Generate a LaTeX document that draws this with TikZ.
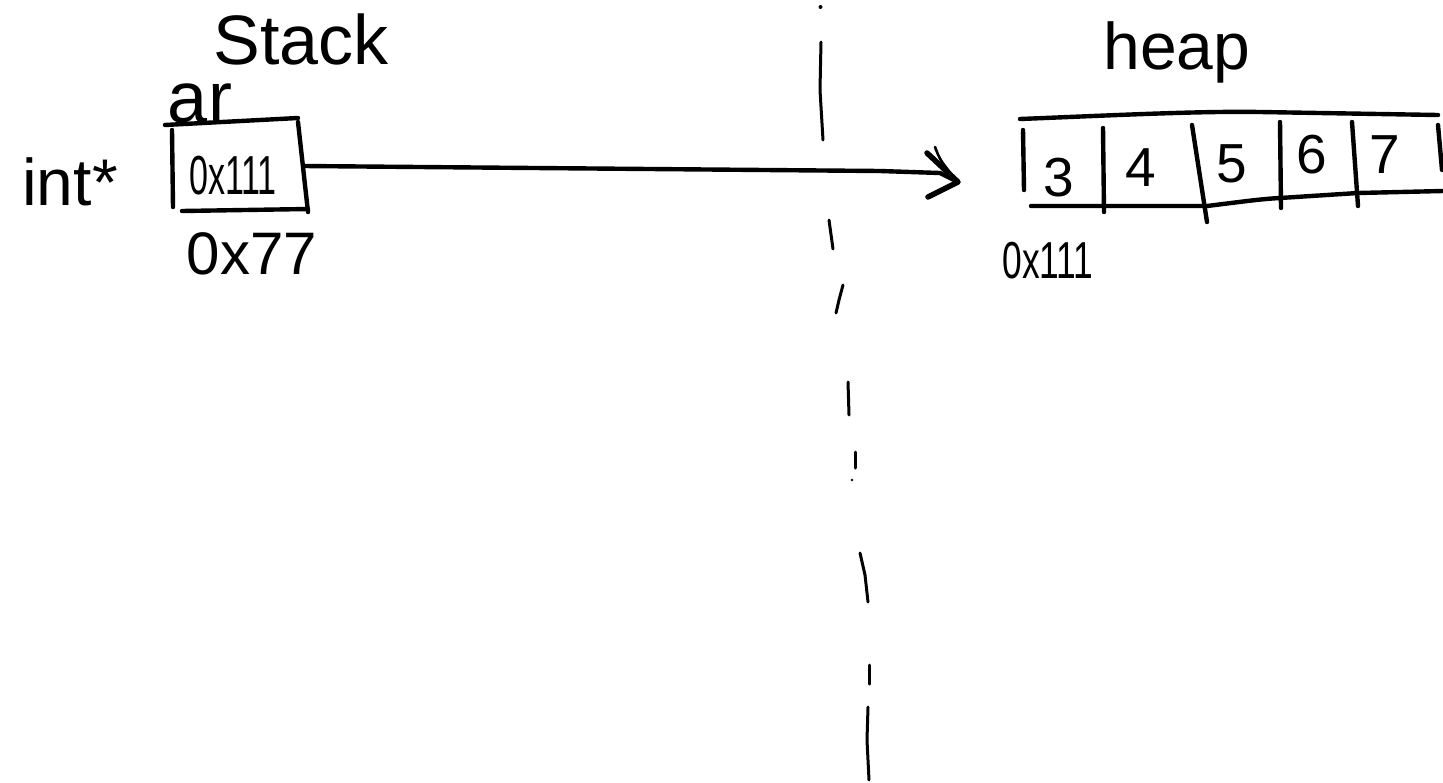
\documentclass[tikz,border=0pt]{standalone}
\usepackage{fontspec}
\setmainfont{Liberation Sans}
\begin{document}
\begin{tikzpicture}[x=1pt,y=-1pt,
  ink/.style={line width=4.4pt,line cap=round,line join=round},
  thinink/.style={line width=3pt,line cap=round},
  lbl/.style={inner sep=0pt,anchor=center},
  digit/.style={lbl,font=\fontsize{55}{55}\selectfont}]
\fill[white] (0,0) rectangle (1443,782);
\useasboundingbox (0,0) rectangle (1443,782);

% ---- stack side ----
\node[lbl,font=\fontsize{70}{70}\selectfont] (stack) at (301,39) {Stack};
\node[lbl,font=\fontsize{72}{72}\selectfont] (ar) at (200,103) {ar};
\node[lbl,font=\fontsize{66}{66}\selectfont] (type) at (70,182) {int*};
\node[lbl,font=\fontsize{55}{55}\selectfont] (ptr) at (233,176) {\scalebox{0.62}[1]{0x111}};
\node[lbl,font=\fontsize{60}{60}\selectfont] (addr) at (252,254) {0x77};

% pointer box (hand drawn)
\draw[ink] (165,125) -- (298,118);
\draw[ink] (172,130) -- (173,207);
\draw[ink] (298,122) -- (308,212);
\draw[ink] (182,211) -- (308,209);
\coordinate (boxr) at (304,166);

% ---- divider (dashed, hand drawn) ----
\fill (820.5,7) circle (2pt);
\draw[thinink] (821,42) -- (820,90) -- (823,140);
\draw[thinink] (829,220) -- (833,249);
\draw[thinink] (843,285) -- (839,300) -- (836,313);
\draw[thinink] (848,382) -- (849,415);
\draw[thinink] (855,452) -- (855,468);
\fill (852,480) circle (1.4pt);
\draw[thinink] (860,553) -- (865,575) -- (868,602);
\draw[thinink] (869,665) -- (869,684);
\draw[thinink] (868,707) -- (867,740) -- (869,780);

% ---- heap side ----
\node[lbl,font=\fontsize{66}{66}\selectfont] (heap) at (1177,52) {heap};
\node[digit] (c3) at (1059,178) {3};
\node[digit] (c4) at (1141,168) {4};
\node[digit] (c5) at (1232,164) {5};
\node[digit] (c6) at (1312,155) {6};
\node[digit] (c7) at (1385,155) {7};
\node[lbl,font=\fontsize{52}{52}\selectfont] (haddr) at (1048,261) {\scalebox{0.68}[1]{0x111}};

% array outline
\draw[ink] (1020,119) .. controls (1120,115) and (1200,111) .. (1260,112) -- (1438,115);
\draw[ink] (1031,206) -- (1207,206) .. controls (1240,202) and (1260,199) .. (1280,198) -- (1358,193) -- (1443,191);
\draw[ink] (1023,130) -- (1024,190);
\draw[ink] (1103,128) -- (1104,212);
\draw[ink] (1192,125) -- (1207,222);
\draw[ink] (1280,122) -- (1281,208);
\draw[ink] (1352,122) -- (1358,206);
\draw[ink] (1438,125) -- (1442,170);

% ---- pointer arrow ----
\coordinate (tip) at (958,182);
\draw[ink] (boxr) -- (880,171) -- (940,173) -- (tip);
\draw[ink,line width=5.5pt] (927,153) -- (tip) -- (928,197);
\draw[line width=2.6pt,line cap=round] (935,147) .. controls (940,160) .. (956,180);
\end{tikzpicture}
\end{document}
